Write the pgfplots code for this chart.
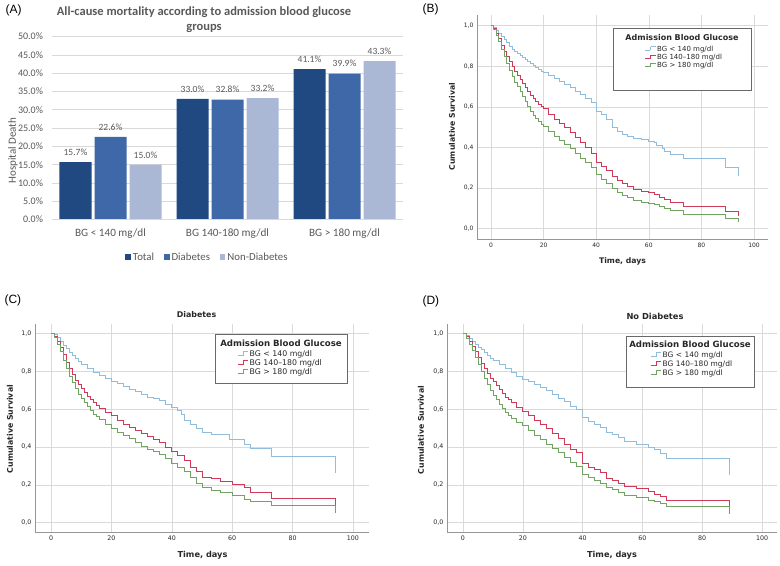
\documentclass[border=0pt]{standalone}
\usepackage{pgfplots}
\pgfplotsset{compat=1.18}
\usepackage{fontspec}
\setmainfont{Carlito}
\newfontfamily\spss{DejaVu Sans}
\newfontfamily\arialf{Liberation Sans}

\definecolor{barTotal}{RGB}{31,73,128}
\definecolor{barDiab}{RGB}{62,104,168}
\definecolor{barNon}{RGB}{170,184,214}
\definecolor{textA}{RGB}{89,89,89}
\definecolor{gridA}{RGB}{217,217,217}
\definecolor{kmblue}{RGB}{146,188,220}
\definecolor{kmred}{RGB}{206,58,88}
\definecolor{kmgreen}{RGB}{112,164,96}
\definecolor{gridKM}{RGB}{218,218,218}
\definecolor{axisKM}{RGB}{150,150,150}
\definecolor{textKM}{RGB}{40,40,40}
\definecolor{boxKM}{RGB}{105,105,105}

\newcommand\stepsym[1]{{\color{#1}\rule[0.25ex]{5pt}{0.5pt}\rule[0.25ex]{0.5pt}{0.9ex}\rule[1.15ex]{5pt}{0.5pt}}}

\pgfplotsset{
  km/.style={
    scale only axis, anchor=south west,
    axis x line=bottom, axis y line=left,
    axis line style={-, draw=axisKM, line width=0.7pt},
    xmajorgrids, ymajorgrids,
    grid style={gridKM, line width=0.6pt},
    major tick length=0pt,
    xtick={0,20,40,60,80,100},
    ytick={0,0.2,0.4,0.6,0.8,1},
    ticklabel style={font=\spss\fontsize{6}{7}\selectfont, text=textKM},
    yticklabel style={/pgf/number format/.cd, fixed, fixed zerofill, precision=1, use comma, assume math mode=true},
    xticklabel style={/pgf/number format/assume math mode=true},
  },
}

\begin{document}
\begin{tikzpicture}[x=1pt,y=1pt]
\path[fill=white] (0,0) rectangle (780,564);

% (A) bar chart
\begin{axis}[
  scale only axis, anchor=south west, at={(52pt,346pt)},
  width=351pt, height=183pt,
  ybar=3pt, bar width=32pt,
  xmin=-0.5, xmax=2.5, ymin=0, ymax=50,
  xtick={0,1,2},
  xticklabels={BG < 140 mg/dl, BG 140-180 mg/dl, BG > 180 mg/dl},
  ytick={0,5,...,50},
  yticklabel={\pgfmathprintnumber[fixed,fixed zerofill,precision=1,assume math mode=true]{\tick}\%},
  axis line style={draw=none},
  major tick length=0pt,
  ymajorgrids, grid style={gridA, line width=0.7pt},
  yticklabel style={font=\fontsize{10}{11}\selectfont, text=textA, xshift=-5.5pt},
  xticklabel style={font=\fontsize{11.2}{12}\selectfont, text=textA, yshift=-5.5pt},
  nodes near coords={\pgfmathprintnumber[fixed,fixed zerofill,precision=1,assume math mode=true]{\pgfplotspointmeta}\%},
  nodes near coords style={font=\fontsize{9.5}{10}\selectfont, text=textA, yshift=3pt},
  legend style={at={(0.443,-0.206)}, anchor=center, draw=none, fill=none,
    legend columns=3, font=\fontsize{10.8}{12}\selectfont, text=textA,
    /tikz/every even column/.append style={column sep=8pt}},
]
\addplot[fill=barTotal, draw=none, legend image code/.code={\fill[barTotal] (0pt,-2.2pt) rectangle (5.5pt,3.3pt);}]
  coordinates {(0,15.7) (1,33.0) (2,41.1)};
\addplot[fill=barDiab, draw=none, legend image code/.code={\fill[barDiab] (0pt,-2.2pt) rectangle (5.5pt,3.3pt);}]
  coordinates {(0,22.6) (1,32.8) (2,39.9)};
\addplot[fill=barNon, draw=none, legend image code/.code={\fill[barNon] (0pt,-2.2pt) rectangle (5.5pt,3.3pt);}]
  coordinates {(0,15.0) (1,33.2) (2,43.3)};
\legend{Total, Diabetes, Non-Diabetes}
\draw[gridA, line width=0.7pt] (rel axis cs:0,0) -- (rel axis cs:1,0);
\end{axis}

\node[anchor=west, font=\arialf\fontsize{12}{13}\selectfont] at (2,555) {(A)};
\node[font=\bfseries\fontsize{12.5}{15}\selectfont, text=textA, align=center] at (204,545.5)
  {All-cause mortality according to admission blood glucose\\groups};
\node[rotate=90, font=\fontsize{11}{12}\selectfont, text=textA] at (13,415) {Hospital Death};

% (B) all patients
\begin{axis}[km, at={(477pt,326pt)}, width=291pt, height=225pt,
  xmin=-5.3, xmax=105.3, ymin=-0.054, ymax=1.054]
\addplot[const plot, kmblue, line width=0.7pt] coordinates {
(0,1.0)(1,0.99)(2,0.975)(3,0.96)(4,0.945)(5,0.93)(6,0.915)(7,0.90)(8,0.885)(9,0.875)
(10,0.865)(11,0.855)(12,0.845)(13,0.835)(14,0.825)(15,0.815)(16,0.805)(17,0.795)(18,0.785)(19,0.775)
(20,0.768)(22,0.755)(24,0.74)(26,0.725)(28,0.71)(30,0.695)(32,0.675)(34,0.66)(36,0.64)(38,0.62)
(40,0.58)(42,0.565)(44,0.54)(46,0.50)(48,0.48)(50,0.465)(52,0.455)(54,0.445)(57,0.44)(60,0.43)
(62,0.425)(63,0.41)(65,0.395)(66,0.38)(68,0.365)(73,0.345)(89,0.30)(94,0.26)};
\addplot[const plot, kmred, line width=0.7pt] coordinates {
(0,1)(1,0.985)(2,0.96)(3,0.935)(4,0.905)(5,0.875)(6,0.85)(7,0.825)(8,0.80)(9,0.775)
(10,0.755)(11,0.735)(12,0.715)(13,0.695)(14,0.675)(15,0.655)(16,0.64)(17,0.625)(18,0.61)(19,0.60)
(20,0.59)(22,0.565)(24,0.54)(26,0.52)(28,0.50)(30,0.475)(32,0.45)(34,0.425)(36,0.40)(38,0.37)
(40,0.325)(42,0.305)(44,0.285)(46,0.26)(48,0.24)(50,0.225)(52,0.21)(54,0.195)(57,0.185)(60,0.18)
(62,0.17)(64,0.155)(66,0.145)(68,0.13)(73,0.11)(89,0.085)(94,0.06)};
\addplot[const plot, kmgreen, line width=0.7pt] coordinates {
(0,1)(1,0.98)(2,0.95)(3,0.92)(4,0.885)(5,0.85)(6,0.815)(7,0.78)(8,0.75)(9,0.72)
(10,0.70)(11,0.675)(12,0.65)(13,0.625)(14,0.60)(15,0.58)(16,0.56)(17,0.545)(18,0.53)(19,0.515)
(20,0.505)(22,0.48)(24,0.455)(26,0.435)(28,0.415)(30,0.395)(32,0.37)(34,0.345)(36,0.325)(38,0.30)
(40,0.265)(42,0.245)(44,0.225)(46,0.20)(48,0.18)(50,0.165)(52,0.155)(54,0.14)(57,0.13)(60,0.125)
(62,0.12)(64,0.11)(66,0.10)(68,0.088)(73,0.072)(89,0.052)(94,0.035)};
\end{axis}

\node[anchor=west, font=\arialf\fontsize{12}{13}\selectfont] at (419,556.7) {(B)};
\node[rotate=90, font=\spss\bfseries\fontsize{7.7}{9}\selectfont, text=textKM] at (452,439) {Cumulative Survival};
\node[font=\spss\bfseries\fontsize{7.7}{9}\selectfont, text=textKM] at (622.5,304) {Time, days};
\draw[boxKM, fill=white, line width=0.8pt] (613,537) rectangle (751,475);
\node[font=\spss\bfseries\fontsize{8}{9}\selectfont, text=textKM] at (682,528.5) {Admission Blood Glucose};
\node[anchor=west, inner sep=0pt, font=\spss\fontsize{7}{8}\selectfont, text=textKM] at (645,516.3) {\stepsym{kmblue}\hspace{1.5pt}BG < 140 mg/dl};
\node[anchor=west, inner sep=0pt, font=\spss\fontsize{7}{8}\selectfont, text=textKM] at (645,508) {\stepsym{kmred}\hspace{1.5pt}BG 140–180 mg/dl};
\node[anchor=west, inner sep=0pt, font=\spss\fontsize{7}{8}\selectfont, text=textKM] at (645,499.7) {\stepsym{kmgreen}\hspace{1.5pt}BG > 180 mg/dl};

% (C) diabetes
\begin{axis}[km, at={(35pt,33pt)}, width=334pt, height=209pt,
  xmin=-5.3, xmax=105.3, ymin=-0.053, ymax=1.053,
  ticklabel style={font=\spss\fontsize{6.3}{7}\selectfont}]
\addplot[const plot, kmblue, line width=0.7pt] coordinates {
(0,1)(1,0.995)(2,0.98)(3,0.96)(4,0.94)(5,0.92)(6,0.90)(7,0.885)(8,0.87)(9,0.855)
(10,0.84)(12,0.815)(14,0.795)(16,0.78)(18,0.765)(20,0.75)(22,0.735)(24,0.72)(26,0.705)(28,0.695)
(30,0.68)(32,0.665)(34,0.655)(36,0.645)(38,0.625)(40,0.61)(42,0.595)(43,0.575)(44,0.54)(46,0.52)
(48,0.50)(50,0.48)(53,0.465)(59,0.44)(64,0.415)(66,0.395)(73,0.35)(94,0.26)};
\addplot[const plot, kmred, line width=0.7pt] coordinates {
(0,1)(1,0.985)(2,0.96)(3,0.93)(4,0.89)(5,0.85)(6,0.815)(7,0.785)(8,0.755)(9,0.73)
(10,0.71)(11,0.69)(12,0.67)(13,0.65)(14,0.635)(15,0.62)(16,0.605)(18,0.585)(20,0.565)(22,0.54)
(24,0.52)(26,0.505)(28,0.49)(30,0.47)(32,0.455)(34,0.44)(36,0.425)(38,0.40)(40,0.375)(42,0.355)
(44,0.33)(46,0.29)(48,0.27)(50,0.24)(53,0.235)(56,0.22)(60,0.20)(64,0.185)(66,0.16)(73,0.13)(94,0.07)};
\addplot[const plot, kmgreen, line width=0.7pt] coordinates {
(0,1)(1,0.98)(2,0.945)(3,0.905)(4,0.86)(5,0.815)(6,0.775)(7,0.74)(8,0.71)(9,0.68)
(10,0.655)(11,0.635)(12,0.615)(13,0.595)(14,0.575)(15,0.56)(16,0.545)(18,0.52)(20,0.50)(22,0.48)
(24,0.46)(26,0.445)(28,0.425)(30,0.405)(32,0.39)(34,0.375)(36,0.36)(38,0.34)(40,0.315)(42,0.295)
(44,0.27)(46,0.24)(48,0.21)(50,0.185)(53,0.17)(56,0.16)(60,0.145)(64,0.125)(66,0.115)(73,0.09)(94,0.05)};
\end{axis}

\node[anchor=west, font=\arialf\fontsize{12}{13}\selectfont] at (1,265) {(C)};
\node[font=\spss\bfseries\fontsize{7.9}{9}\selectfont, text=textKM] at (196.5,251.3) {Diabetes};
\node[rotate=90, font=\spss\bfseries\fontsize{7.8}{9}\selectfont, text=textKM] at (10,136.5) {Cumulative Survival};
\node[font=\spss\bfseries\fontsize{8.2}{9}\selectfont, text=textKM] at (202.5,10) {Time, days};
\draw[boxKM, fill=white, line width=0.8pt] (215,231) rectangle (347,182);
\node[font=\spss\bfseries\fontsize{8.6}{10}\selectfont, text=textKM] at (281,222.3) {Admission Blood Glucose};
\node[anchor=west, inner sep=0pt, font=\spss\fontsize{7.8}{9}\selectfont, text=textKM] at (237.5,211) {\stepsym{kmblue}\hspace{1.5pt}BG < 140 mg/dl};
\node[anchor=west, inner sep=0pt, font=\spss\fontsize{7.8}{9}\selectfont, text=textKM] at (237.5,202) {\stepsym{kmred}\hspace{1.5pt}BG 140–180 mg/dl};
\node[anchor=west, inner sep=0pt, font=\spss\fontsize{7.8}{9}\selectfont, text=textKM] at (237.5,193) {\stepsym{kmgreen}\hspace{1.5pt}BG > 180 mg/dl};

% (D) no diabetes
\begin{axis}[km, at={(447pt,33pt)}, width=330pt, height=209pt,
  xmin=-5.35, xmax=105, ymin=-0.053, ymax=1.053,
  ticklabel style={font=\spss\fontsize{6.3}{7}\selectfont}]
\addplot[const plot, kmblue, line width=0.7pt] coordinates {
(0,1)(1,0.99)(2,0.975)(3,0.96)(4,0.945)(5,0.93)(6,0.915)(7,0.90)(8,0.885)(9,0.87)
(10,0.86)(12,0.835)(14,0.815)(16,0.795)(18,0.775)(20,0.76)(22,0.745)(24,0.73)(26,0.715)(28,0.70)
(30,0.68)(32,0.66)(34,0.64)(36,0.615)(38,0.60)(40,0.555)(42,0.535)(44,0.52)(46,0.505)(48,0.475)
(50,0.465)(52,0.45)(54,0.43)(58,0.415)(62,0.40)(64,0.385)(66,0.365)(68,0.34)(89,0.25)};
\addplot[const plot, kmred, line width=0.7pt] coordinates {
(0,1)(1,0.985)(2,0.96)(3,0.935)(4,0.905)(5,0.875)(6,0.845)(7,0.815)(8,0.79)(9,0.765)
(10,0.745)(11,0.725)(12,0.705)(13,0.685)(14,0.665)(15,0.65)(16,0.635)(18,0.61)(20,0.59)(22,0.565)
(24,0.54)(26,0.52)(28,0.50)(30,0.47)(32,0.445)(34,0.415)(36,0.39)(38,0.37)(40,0.315)(42,0.295)
(44,0.28)(46,0.265)(48,0.235)(50,0.225)(52,0.21)(54,0.19)(58,0.18)(62,0.165)(64,0.15)(66,0.14)
(68,0.12)(89,0.06)};
\addplot[const plot, kmgreen, line width=0.7pt] coordinates {
(0,1)(1,0.975)(2,0.945)(3,0.91)(4,0.875)(5,0.84)(6,0.80)(7,0.765)(8,0.73)(9,0.70)
(10,0.675)(11,0.65)(12,0.625)(13,0.605)(14,0.585)(15,0.565)(16,0.55)(18,0.53)(20,0.515)(22,0.49)
(24,0.46)(26,0.44)(28,0.415)(30,0.395)(32,0.37)(34,0.345)(36,0.32)(38,0.30)(40,0.255)(42,0.24)
(44,0.225)(46,0.21)(48,0.185)(50,0.175)(52,0.16)(54,0.145)(58,0.135)(62,0.12)(64,0.11)(66,0.10)
(68,0.085)(89,0.045)};
\end{axis}

\node[anchor=west, font=\arialf\fontsize{12}{13}\selectfont] at (419,264) {(D)};
\node[font=\spss\bfseries\fontsize{8.3}{9}\selectfont, text=textKM] at (655,249.7) {No Diabetes};
\node[rotate=90, font=\spss\bfseries\fontsize{7.8}{9}\selectfont, text=textKM] at (421,135.5) {Cumulative Survival};
\node[font=\spss\bfseries\fontsize{8.2}{9}\selectfont, text=textKM] at (612,10) {Time, days};
\draw[boxKM, fill=white, line width=0.8pt] (626,229) rectangle (754,178);
\node[font=\spss\bfseries\fontsize{8.6}{10}\selectfont, text=textKM] at (690,221) {Admission Blood Glucose};
\node[anchor=west, inner sep=0pt, font=\spss\fontsize{7.5}{9}\selectfont, text=textKM] at (650.5,210) {\stepsym{kmblue}\hspace{1.5pt}BG < 140 mg/dl};
\node[anchor=west, inner sep=0pt, font=\spss\fontsize{7.5}{9}\selectfont, text=textKM] at (650.5,201) {\stepsym{kmred}\hspace{1.5pt}BG 140–180 mg/dl};
\node[anchor=west, inner sep=0pt, font=\spss\fontsize{7.5}{9}\selectfont, text=textKM] at (650.5,192) {\stepsym{kmgreen}\hspace{1.5pt}BG > 180 mg/dl};

\path[use as bounding box] (0,0) rectangle (780,564);
\end{tikzpicture}
\end{document}
